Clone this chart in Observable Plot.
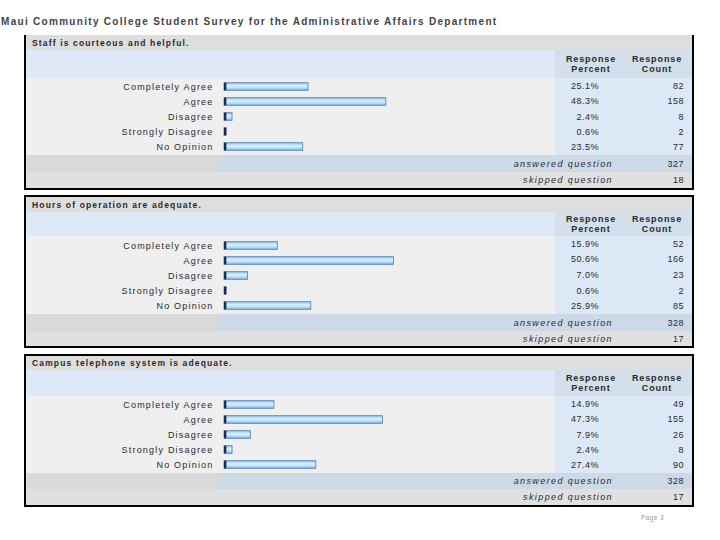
<!DOCTYPE html>
<html>
<head>
<meta charset="utf-8">
<script src="https://cdn.jsdelivr.net/npm/d3@7"></script>
<script src="https://cdn.jsdelivr.net/npm/@observablehq/plot@0.6"></script>
<style>
  body { margin: 0; background: #fff; font-family: "Liberation Sans", Arial, sans-serif; }
  #page { position: relative; width: 720px; height: 540px; overflow: hidden; background: #fff; }
  .doctitle { position: absolute; left: 1px; top: 16px; font-size: 10px; font-weight: bold; color: #444; letter-spacing: 1.3px; white-space: nowrap; }
  .panel { position: absolute; left: 24px; width: 666px; border-left: 2px solid #000; border-right: 2px solid #000; border-bottom: 2px solid #000; }
  .band { position: absolute; }
  .txt { position: absolute; white-space: nowrap; color: #2a2a2a; }
  .qtitle { font-size: 8.5px; font-weight: bold; letter-spacing: 1.15px; }
  .hdr { font-size: 9px; font-weight: bold; letter-spacing: 0.9px; text-align: center; line-height: 10px; width: 70px; }
  .val { font-size: 9px; letter-spacing: 0.5px; text-align: right; line-height: 10px; }
  .foot { font-size: 9px; font-style: italic; letter-spacing: 1.4px; text-align: right; line-height: 10px; }
  .rowplot { position: absolute; left: 0; }
  .rowplot text { letter-spacing: 1.2px; }
  .pageno { position: absolute; left: 641px; top: 514px; font-size: 6.5px; color: #999; letter-spacing: 0.4px; }
</style>
</head>
<body>
<svg width="0" height="0" style="position:absolute">
  <defs>
    <linearGradient id="barGrad" x1="0" y1="0" x2="0" y2="1">
      <stop offset="0%" stop-color="#86c2f3"/>
      <stop offset="40%" stop-color="#dcf0fe"/>
      <stop offset="65%" stop-color="#c2e2fa"/>
      <stop offset="100%" stop-color="#7ab6ea"/>
    </linearGradient>
  </defs>
</svg>
<div id="page"></div>
<script>
const docTitle = "Maui Community College Student Survey for the Administrative Affairs Department";
const categories = ["Completely Agree", "Agree", "Disagree", "Strongly Disagree", "No Opinion"];
const questions = ["Staff is courteous and helpful.", "Hours of operation are adequate.", "Campus telephone system is adequate."];
const staffPercent = [25.1, 48.3, 2.4, 0.6, 23.5];
const staffCount = [82, 158, 8, 2, 77];
const hoursPercent = [15.9, 50.6, 7.0, 0.6, 25.9];
const hoursCount = [52, 166, 23, 2, 85];
const phonePercent = [14.9, 47.3, 7.9, 2.4, 27.4];
const phoneCount = [49, 155, 26, 8, 90];
const answeredCounts = [327, 328, 328];
const skippedCounts = [18, 17, 17];
const headerLabels = ["Response<br>Percent", "Response<br>Count"];
const pageLabel = "Page 3";

const panelData = [
  { q: questions[0], pct: staffPercent, cnt: staffCount, ans: answeredCounts[0], skip: skippedCounts[0] },
  { q: questions[1], pct: hoursPercent, cnt: hoursCount, ans: answeredCounts[1], skip: skippedCounts[1] },
  { q: questions[2], pct: phonePercent, cnt: phoneCount, ans: answeredCounts[2], skip: skippedCounts[2] }
];
const layout = [
  { top: 35, borderTop: false, h: [15, 28, 77, 17, 16] },
  { top: 195, borderTop: true, h: [15, 24, 78, 17, 15] },
  { top: 354, borderTop: true, h: [14, 26, 77, 16, 16] }
];

const page = document.getElementById("page");
const t = document.createElement("div");
t.className = "doctitle"; t.textContent = docTitle; page.appendChild(t);
const pn = document.createElement("div");
pn.className = "pageno"; pn.textContent = pageLabel; page.appendChild(pn);

function band(parent, x, y, w, h, color) {
  const b = document.createElement("div");
  b.className = "band";
  Object.assign(b.style, { left: x + "px", top: y + "px", width: w + "px", height: h + "px", background: color });
  parent.appendChild(b);
  return b;
}
function text(parent, cls, html, style) {
  const d = document.createElement("div");
  d.className = "txt " + cls;
  d.innerHTML = html;
  Object.assign(d.style, style);
  parent.appendChild(d);
  return d;
}

const W = 666, leftW = 529, splitA = 192;

panelData.forEach((P, k) => {
  const L = layout[k];
  const p = document.createElement("div");
  p.className = "panel";
  p.style.top = L.top + "px";
  if (L.borderTop) p.style.borderTop = "2px solid #000";
  const [hT, hH, hR, hA, hS] = L.h;
  p.style.height = (hT + hH + hR + hA + hS) + "px";
  page.appendChild(p);
  let y = 0;
  band(p, 0, y, W, hT, "#dedede");
  text(p, "qtitle", P.q, { left: "6px", top: (y + hT / 2 - 5) + "px", lineHeight: "10px" });
  y += hT;
  band(p, 0, y, leftW, hH, "#dfe9f6");
  band(p, leftW, y, W - leftW, hH, "#d4dfec");
  text(p, "hdr", headerLabels[0], { left: (565 - 35) + "px", top: (y + hH / 2 - 10) + "px" });
  text(p, "hdr", headerLabels[1], { left: (631 - 35) + "px", top: (y + hH / 2 - 10) + "px" });
  y += hH;
  band(p, 0, y, leftW, hR, "#efefef");
  band(p, leftW, y, W - leftW, hR, "#dce8f5");
  const data = categories.map((c, i) => ({ cat: c, pct: P.pct[i], cnt: P.cnt[i] }));
  const chart = Plot.plot({
    width: leftW,
    height: hR,
    marginTop: 0, marginBottom: 0, marginRight: 0, marginLeft: 198,
    x: { domain: [0, 100], range: [198, 533], axis: null },
    y: { domain: categories, range: [0, hR], padding: 0 },
    style: { background: "transparent", fontFamily: "Liberation Sans, Arial, sans-serif", fontSize: "9px", color: "#2a2a2a", overflow: "visible" },
    marks: [
      Plot.axisY({ tickSize: 0, tickPadding: 11, fontSize: 9, label: null }),
      Plot.barX(data, { x1: 0, x2: "pct", y: "cat", fill: "url(#barGrad)", stroke: "#4f7db3", strokeWidth: 0.8, insetTop: 3.7, insetBottom: 3.7 }),
      Plot.barX(data, { x1: 0, x2: 0.7, y: "cat", fill: "#1b2c4e", insetTop: 3.7, insetBottom: 3.7 })
    ]
  });
  const holder = document.createElement("div");
  holder.className = "rowplot";
  holder.style.top = y + "px";
  holder.appendChild(chart);
  p.appendChild(holder);
  const step = hR / categories.length;
  data.forEach((d, i) => {
    const cy = y + step * (i + 0.5);
    text(p, "val", d.pct.toFixed(1) + "%", { left: "513px", width: "60px", top: (cy - 5) + "px" });
    text(p, "val", String(d.cnt), { left: "618px", width: "40px", top: (cy - 5) + "px" });
  });
  y += hR;
  band(p, 0, y, splitA, hA, "#d9d9d9");
  band(p, splitA, y, W - splitA, hA, "#cdd9e7");
  text(p, "foot", "answered question", { left: "407px", width: "180px", top: (y + hA / 2 - 5) + "px" });
  text(p, "val", String(P.ans), { left: "618px", width: "40px", top: (y + hA / 2 - 5) + "px" });
  y += hA;
  band(p, 0, y, W, hS, "#e0e0e0");
  text(p, "foot", "skipped question", { left: "407px", width: "180px", top: (y + hS / 2 - 5) + "px" });
  text(p, "val", String(P.skip), { left: "618px", width: "40px", top: (y + hS / 2 - 5) + "px" });
});
</script>
</body>
</html>
